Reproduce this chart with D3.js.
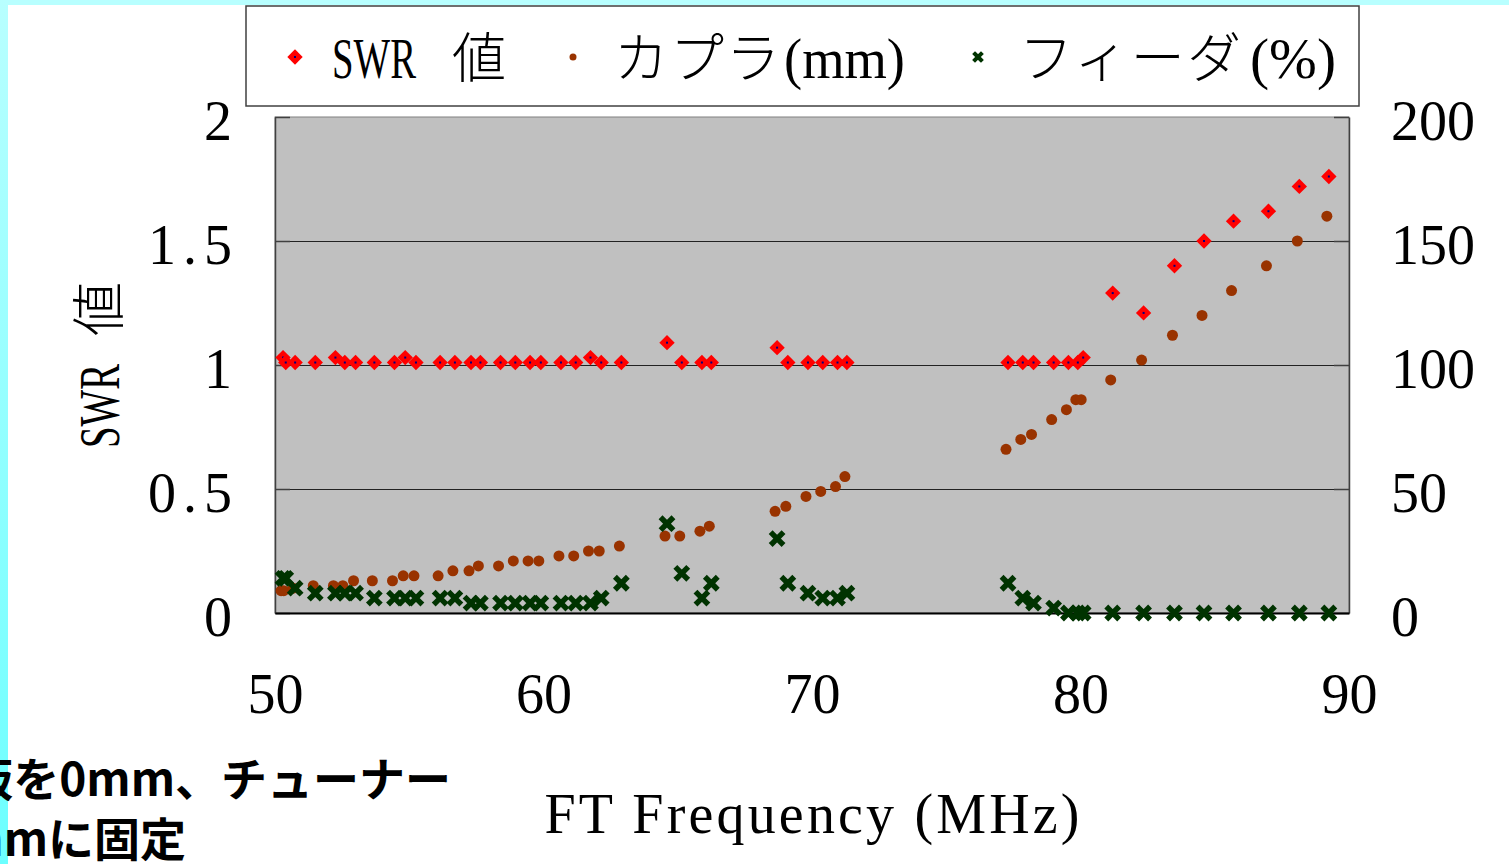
<!DOCTYPE html>
<html>
<head>
<meta charset="utf-8">
<script src="https://cdn.jsdelivr.net/npm/d3@7"></script>
<style>
  body { margin: 0; background: #fff; }
  svg { display: block; }
</style>
</head>
<body>
<svg class="chart"></svg>
<script>
// frequency (MHz) of each measurement
const freqs = [
  50.3, 50.4, 50.75, 51.5, 52.25, 52.6, 53.0, 53.7, 54.45, 54.85, 55.25, 56.15,
  56.7, 57.3, 57.65, 58.4, 58.95, 59.5, 59.9, 60.65, 61.2, 61.75, 62.15, 62.9,
  64.6, 65.15, 65.9, 66.25,
  68.7, 69.1, 69.85, 70.4, 70.95, 71.3,
  77.3, 77.85, 78.25, 79.0, 79.55, 79.9, 80.1, 81.2, 82.35, 83.5, 84.6, 85.7, 87.0, 88.15, 89.25,
];
const swrValues = [
  1.03, 1.01, 1.01, 1.01, 1.03, 1.01, 1.01, 1.01, 1.01, 1.03, 1.01, 1.01,
  1.01, 1.01, 1.01, 1.01, 1.01, 1.01, 1.01, 1.01, 1.01, 1.03, 1.01, 1.01,
  1.09, 1.01, 1.01, 1.01,
  1.07, 1.01, 1.01, 1.01, 1.01, 1.01,
  1.01, 1.01, 1.01, 1.01, 1.01, 1.01, 1.03, 1.29, 1.21, 1.40, 1.50, 1.58, 1.62, 1.72, 1.76,
];
const couplerMm = [
  9, 9, 10, 11, 11, 11, 13, 13, 13, 15, 15, 15,
  17, 17, 19, 19, 21, 21, 21, 23, 23, 25, 25, 27,
  31, 31, 33, 35,
  41, 43, 47, 49, 51, 55,
  66, 70, 72, 78, 82, 86, 86, 94, 102, 112, 120, 130, 140, 150, 160,
];
const feederPct = [
  14, 14, 10, 8, 8, 8, 8, 6, 6, 6, 6, 6,
  6, 4, 4, 4, 4, 4, 4, 4, 4, 4, 6, 12,
  36, 16, 6, 12,
  30, 12, 8, 6, 6, 8,
  12, 6, 4, 2, 0, 0, 0, 0, 0, 0, 0, 0, 0, 0, 0,
];

const leftTicks = [0, 0.5, 1, 1.5, 2];
const rightTicks = [0, 50, 100, 150, 200];
const xTicks = [50, 60, 70, 80, 90];
// legend names, split into full-width and half-width runs
const seriesNames = [['SWR', ' 値'], ['カプラ', '(mm)'], ['フィーダ', '(%)']];
const xTitle = 'FT Frequency (MHz)';
const yTitle = ['SWR', '値'];
const noteLines = ['板を0mm、チューナー', 'mmに固定'];

const W = 1509;
const H = 864;
const PLOT = { left: 275, right: 1349, top: 117, bottom: 613 };
const SERIF = "'Liberation Serif','Noto Sans CJK JP',serif";
const CJK = "'Noto Sans CJK JP',sans-serif";
const RED = '#ff0000';
const BROWN = '#993300';
const GREEN = '#003300';

const svg = d3.select('svg.chart')
  .attr('width', W)
  .attr('height', H);

// page background with the cyan edges
const defs = svg.append('defs');
const grad = defs.append('linearGradient')
  .attr('id', 'edge')
  .attr('x1', 0).attr('y1', 0).attr('x2', 0).attr('y2', 1);
grad.append('stop').attr('offset', '0%').attr('stop-color', '#b8ffff');
grad.append('stop').attr('offset', '100%').attr('stop-color', '#6cffff');

svg.append('rect').attr('width', W).attr('height', H).attr('fill', '#fff');
svg.append('rect').attr('width', W).attr('height', 5).attr('fill', '#b8ffff');
svg.append('rect').attr('width', 8).attr('height', H).attr('fill', 'url(#edge)');

const x = d3.scaleLinear().domain([50, 90]).range([PLOT.left, PLOT.right]);
const yL = d3.scaleLinear().domain([0, 2]).range([PLOT.bottom, PLOT.top]);
const yR = d3.scaleLinear().domain([0, 200]).range([PLOT.bottom, PLOT.top]);

// plot area
svg.append('rect')
  .attr('x', PLOT.left)
  .attr('y', PLOT.top)
  .attr('width', PLOT.right - PLOT.left)
  .attr('height', PLOT.bottom - PLOT.top)
  .attr('fill', '#c0c0c0')
  .attr('stroke', '#808080')
  .attr('stroke-width', 1);

svg.append('g').attr('class', 'grid')
  .selectAll('line')
  .data(leftTicks.filter(d => d > 0 && d < 2))
  .enter()
.append('line')
  .attr('x1', PLOT.left)
  .attr('x2', PLOT.right)
  .attr('y1', d => Math.round(yL(d)) + 0.5)
  .attr('y2', d => Math.round(yL(d)) + 0.5)
  .attr('stroke', '#222');

const styleAxis = (g) => {
  g.select('.domain').attr('stroke', '#404040').attr('stroke-width', 1.5);
  g.selectAll('.tick line').attr('stroke', '#404040').attr('stroke-width', 1.5);
  g.selectAll('text')
    .attr('fill', '#000')
    .attr('font-family', SERIF)
    .attr('font-size', 56)
    .attr('lengthAdjust', 'spacing')
    .attr('textLength', function len() { return 28 * this.textContent.length; });
};

svg.append('g')
  .attr('transform', `translate(${PLOT.left},0)`)
  .call(d3.axisLeft(yL).tickValues(leftTicks).tickFormat(d => String(d))
    .tickSize(-15).tickSizeOuter(0).tickPadding(43))
  .call(styleAxis)
  .selectAll('text').attr('dy', '0.41em');

svg.append('g')
  .attr('transform', `translate(${PLOT.right},0)`)
  .call(d3.axisRight(yR).tickValues(rightTicks).tickFormat(d => String(d))
    .tickSize(-15).tickSizeOuter(0).tickPadding(42))
  .call(styleAxis)
  .selectAll('text').attr('dy', '0.41em');

const xAxis = svg.append('g')
  .attr('transform', `translate(0,${PLOT.bottom})`)
  .call(d3.axisBottom(x).tickValues(xTicks).tickFormat(d => String(d))
    .tickSize(0).tickSizeOuter(0).tickPadding(60))
  .call(styleAxis);
xAxis.select('.domain').attr('stroke', '#000').attr('stroke-width', 2);

// markers
const diamond = d3.symbol().type(d3.symbolSquare).size(118);
const cross = 'M-4.5,-4.5L4.5,4.5M-4.5,4.5L4.5,-4.5';

const points = freqs.map((f, i) => ({
  f, swr: swrValues[i], coupler: couplerMm[i], feeder: feederPct[i],
}));

svg.append('g').attr('class', 'coupler')
  .selectAll('circle')
  .data(points)
  .enter()
.append('circle')
  .attr('cx', d => x(d.f) - 2)
  .attr('cy', d => yR(d.coupler))
  .attr('r', 5.5)
  .attr('fill', BROWN);

svg.append('g').attr('class', 'feeder')
  .selectAll('path')
  .data(points)
  .enter()
.append('path')
  .attr('transform', d => `translate(${x(d.f)},${yR(d.feeder)})`)
  .attr('d', cross)
  .attr('stroke', GREEN)
  .attr('stroke-width', 5.5)
  .attr('stroke-linecap', 'square');

const swrG = svg.append('g').attr('class', 'swr')
  .selectAll('g')
  .data(points)
  .enter()
.append('g')
  .attr('transform', d => `translate(${x(d.f)},${yL(d.swr)})`);
swrG.append('path')
  .attr('d', diamond)
  .attr('transform', 'rotate(45)')
  .attr('fill', RED);
swrG.append('rect')
  .attr('x', -1).attr('y', -1).attr('width', 2).attr('height', 2)
  .attr('fill', '#000080');

// titles
svg.append('text')
  .attr('x', (PLOT.left + PLOT.right) / 2)
  .attr('y', 833)
  .attr('text-anchor', 'middle')
  .attr('font-family', SERIF)
  .attr('font-size', 56)
  .attr('textLength', 535)
  .attr('lengthAdjust', 'spacing')
  .text(xTitle);

const yt = svg.append('g')
  .attr('transform', `translate(119,${(PLOT.top + PLOT.bottom) / 2}) rotate(-90)`);
yt.append('text')
  .attr('x', -83)
  .attr('font-family', SERIF)
  .attr('font-size', 56)
  .attr('textLength', 84)
  .attr('lengthAdjust', 'spacingAndGlyphs')
  .text(yTitle[0]);
yt.append('text')
  .attr('x', 29)
  .attr('font-family', CJK)
  .attr('font-weight', 300)
  .attr('font-size', 54)
  .text(yTitle[1]);

// legend
const legend = svg.append('g').attr('class', 'legend');
legend.append('rect')
  .attr('x', 246).attr('y', 6)
  .attr('width', 1113).attr('height', 100)
  .attr('fill', '#fff')
  .attr('stroke', '#404040')
  .attr('stroke-width', 1.5);

// each legend label: a run, its start and width
const legendRuns = [
  { text: seriesNames[0][0], x: 332, len: 84, font: SERIF, squeeze: true },
  { text: seriesNames[0][1].trim(), x: 452, len: 54, font: CJK },
  { text: seriesNames[1][0], x: 614, len: 166, font: CJK },
  { text: seriesNames[1][1], x: 784, len: 121, font: SERIF, squeeze: true },
  { text: seriesNames[2][0], x: 1019, len: 222, font: CJK },
  { text: seriesNames[2][1], x: 1250, len: 86, font: SERIF, squeeze: true },
];
legend.selectAll('text')
  .data(legendRuns)
  .enter()
.append('text')
  .attr('x', d => d.x)
  .attr('y', 78)
  .attr('font-family', d => d.font)
  .attr('font-weight', 300)
  .attr('font-size', d => (d.squeeze ? 58 : 54))
  .attr('textLength', d => d.len)
  .attr('lengthAdjust', d => (d.squeeze ? 'spacingAndGlyphs' : 'spacing'))
  .text(d => d.text);

const lm0 = legend.append('g').attr('transform', 'translate(295,57)');
lm0.append('path').attr('d', diamond).attr('transform', 'rotate(45)').attr('fill', RED);
lm0.append('rect').attr('x', -1).attr('y', -1).attr('width', 2).attr('height', 2).attr('fill', '#000080');
legend.append('circle')
  .attr('cx', 573).attr('cy', 57).attr('r', 3.5)
  .attr('fill', BROWN);
legend.append('path')
  .attr('transform', 'translate(978,57)')
  .attr('d', 'M-3,-3L3,3M-3,3L3,-3')
  .attr('stroke', GREEN)
  .attr('stroke-width', 4)
  .attr('stroke-linecap', 'square');

// clipped caption at the lower left
svg.append('g').attr('class', 'note')
  .selectAll('text')
  .data(noteLines)
  .enter()
.append('text')
  .attr('x', (d, i) => (i === 0 ? 451 : 186))
  .attr('y', (d, i) => 796 + i * 60)
  .attr('text-anchor', 'end')
  .attr('font-family', CJK)
  .attr('font-weight', 700)
  .attr('font-size', 46)
  .text(d => d);
</script>
</body>
</html>
